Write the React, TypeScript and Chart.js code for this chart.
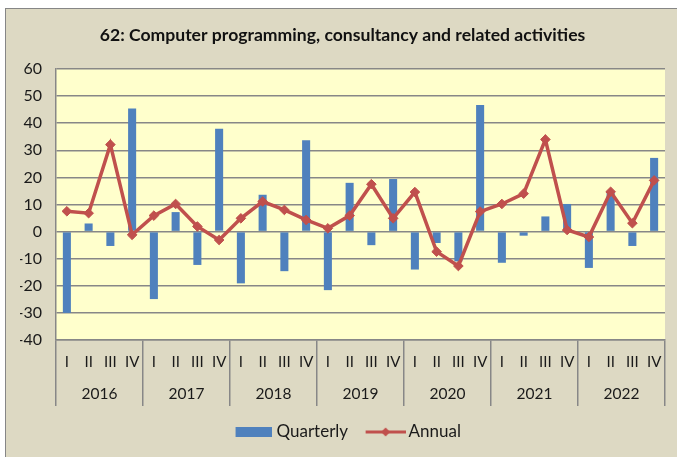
import React, { useEffect, useRef } from 'react';
import { Chart, registerables } from 'chart.js';

Chart.register(...registerables);

const chartTitle = '62: Computer programming, consultancy and related activities';
const years = ['2016', '2017', '2018', '2019', '2020', '2021', '2022'];
const quarterNames = ['I', 'II', 'III', 'IV'];
const seriesNames = ['Quarterly', 'Annual'];

const quarterly = [
  -30, 3, -5.3, 45.4,
  -24.9, 7.2, -12.3, 38,
  -19.1, 13.6, -14.6, 33.7,
  -21.6, 18, -5, 19.4,
  -14, -4.2, -11, 46.7,
  -11.5, -1.5, 5.6, 10.2,
  -13.4, 14.8, -5.3, 27.2,
];

const annual = [
  7.5, 6.8, 32.1, -1.2,
  5.9, 10.2, 1.9, -3.1,
  4.9, 11.1, 8, 4.3,
  1.2, 5.9, 17.5, 4.9,
  14.6, -7.4, -12.7, 7.4,
  10.2, 14, 34, 0.6,
  -2, 14.7, 3.1, 18.9,
];

const yMin = -40;
const yMax = 60;
const yStep = 10;

const BAR = '#4F81BD';
const LINE = '#C0504D';
const GRID = '#878787';
const TEXT = '#1a1a1a';
const FONT = 'Lato';

const plotBg = {
  id: 'plotBg',
  beforeDraw(chart: any) {
    const { ctx, chartArea: a } = chart;
    ctx.save();
    ctx.fillStyle = '#FFFFCC';
    ctx.fillRect(a.left, a.top, a.right - a.left, a.bottom - a.top);
    ctx.restore();
  },
};

// legend swatches (transparent left margin keeps the visible mark placed like the original)
function makeBoxImg(): HTMLCanvasElement {
  const c = document.createElement('canvas');
  c.width = 51;
  c.height = 10;
  const g = c.getContext('2d')!;
  g.fillStyle = BAR;
  g.fillRect(15, 0, 36, 10);
  return c;
}

function makeLineImg(): HTMLCanvasElement {
  const c = document.createElement('canvas');
  c.width = 55;
  c.height = 10;
  const g = c.getContext('2d')!;
  g.strokeStyle = LINE;
  g.lineWidth = 3;
  g.beginPath();
  g.moveTo(15, 5);
  g.lineTo(55, 5);
  g.stroke();
  g.fillStyle = LINE;
  g.beginPath();
  g.moveTo(35, 0.5);
  g.lineTo(39.5, 5);
  g.lineTo(35, 9.5);
  g.lineTo(30.5, 5);
  g.closePath();
  g.fill();
  return c;
}

export default function App() {
  const ref = useRef<HTMLCanvasElement | null>(null);

  useEffect(() => {
    if (!ref.current) return;
    const labels = years.flatMap(() => quarterNames);
    const boxImg = makeBoxImg();
    const lineImg = makeLineImg();

    const chart = new Chart(ref.current, {
      type: 'bar',
      data: {
        labels,
        datasets: [
          {
            type: 'line',
            label: seriesNames[1],
            data: annual,
            borderColor: LINE,
            backgroundColor: LINE,
            borderWidth: 3.5,
            pointStyle: 'rectRot',
            pointRadius: 4.8,
            pointBackgroundColor: LINE,
            pointBorderColor: LINE,
            pointBorderWidth: 1,
            tension: 0,
            order: 1,
          } as any,
          {
            type: 'bar',
            label: seriesNames[0],
            data: quarterly,
            backgroundColor: BAR,
            borderWidth: 0,
            barPercentage: 0.37,
            categoryPercentage: 1,
            order: 2,
          } as any,
        ],
      },
      options: {
        responsive: false,
        animation: false,
        devicePixelRatio: 1,
        layout: { padding: { left: 14, right: 12, top: 0, bottom: 6.5 } },
        plugins: {
          title: {
            display: true,
            text: chartTitle,
            color: '#111',
            font: { family: FONT, size: 17.6, weight: 'bold' },
            padding: { top: 15.7, bottom: 23.2 },
          },
          legend: {
            position: 'bottom',
            labels: {
              usePointStyle: true,
              pointStyleWidth: 44,
              boxHeight: 10,
              padding: 8,
              color: TEXT,
              font: { family: FONT, size: 17 },
              generateLabels: () => [
                {
                  text: seriesNames[0],
                  pointStyle: boxImg,
                  fillStyle: BAR,
                  strokeStyle: BAR,
                  lineWidth: 0,
                  hidden: false,
                  datasetIndex: 1,
                  fontColor: TEXT,
                } as any,
                {
                  text: seriesNames[1],
                  pointStyle: lineImg,
                  fillStyle: LINE,
                  strokeStyle: LINE,
                  lineWidth: 0,
                  hidden: false,
                  datasetIndex: 0,
                  fontColor: TEXT,
                } as any,
              ],
            },
          },
          tooltip: { enabled: false },
        },
        scales: {
          x: {
            type: 'category',
            position: 'bottom',
            offset: true,
            weight: 0,
            grid: {
              offset: true,
              drawOnChartArea: false,
              drawTicks: true,
              tickLength: 33,
              lineWidth: 1.5,
              color: (ctx: any) =>
                ctx.type === 'tick' && ctx.index % 4 !== 0 ? 'rgba(0,0,0,0)' : GRID,
            },
            border: { display: true, color: GRID, width: 1.5 },
            ticks: {
              autoSkip: false,
              maxRotation: 0,
              minRotation: 0,
              padding: -20,
              color: TEXT,
              font: { family: FONT, size: 15 },
            },
            afterFit: (s: any) => {
              s.height = 33;
            },
          },
          x2: {
            type: 'category',
            labels: years,
            position: 'bottom',
            offset: true,
            weight: 1,
            grid: {
              offset: true,
              drawOnChartArea: false,
              drawTicks: true,
              tickLength: 33,
              lineWidth: 1.5,
              color: GRID,
            },
            border: { display: false },
            ticks: {
              autoSkip: false,
              maxRotation: 0,
              minRotation: 0,
              padding: -21,
              color: TEXT,
              font: { family: FONT, size: 15.5 },
            },
            afterFit: (s: any) => {
              s.height = 42.5;
            },
          } as any,
          y: {
            min: yMin,
            max: yMax,
            ticks: {
              stepSize: yStep,
              padding: 14,
              color: TEXT,
              font: { family: FONT, size: 16 },
            },
            grid: { color: GRID, lineWidth: 1.5, drawTicks: false },
            border: { display: true, color: GRID, width: 1.5 },
            afterFit: (s: any) => {
              s.width = 36;
            },
          },
        },
      },
      plugins: [plotBg],
    });
    return () => chart.destroy();
  }, []);

  return (
    <div
      style={{
        position: 'fixed',
        left: 0,
        top: 0,
        width: 677,
        height: 457,
        background: '#ffffff',
        overflow: 'hidden',
      }}
    >
      <div
        style={{
          position: 'absolute',
          left: 5,
          top: 8,
          width: 690,
          height: 470,
          background: '#DDD9C3',
          borderLeft: '1px solid #868686',
          borderTop: '1px solid #868686',
        }}
      >
        <canvas ref={ref} width={671} height={448} style={{ display: 'block', width: 671, height: 448 }} />
      </div>
    </div>
  );
}
